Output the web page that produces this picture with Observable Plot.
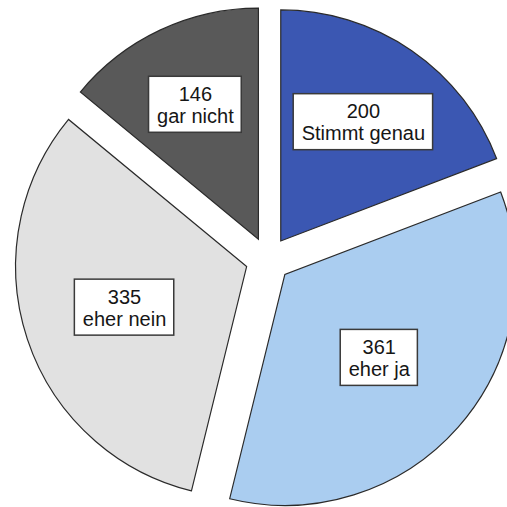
<!DOCTYPE html>
<html>
<head>
<meta charset="utf-8">
<script src="https://cdn.jsdelivr.net/npm/d3@7"></script>
<script src="https://cdn.jsdelivr.net/npm/@observablehq/plot@0.6"></script>
<style>
  html, body { margin: 0; padding: 0; background: #fff; }
  #chart svg { display: block; }
</style>
</head>
<body>
<div id="chart"></div>
<script>
// Answer categories, clockwise from 12 o'clock, and their counts
const categories = ["Stimmt genau", "eher ja", "eher nein", "gar nicht"];
const counts = [200, 361, 335, 146];
const palette = ["#3b57b2", "#aacdf0", "#e1e1e1", "#595959"];

// Layout: canvas size, pie centre and radius in pixels, explode distance
const W = 507, H = 507;
const CX = 268, CY = 259.5, R = 231;
const EXPLODE = 22.5 / R;
const FONT_SIZE = 20, LINE = 22, PAD_X = 8, PAD_Y = 6;
const FONT = "'Liberation Sans', Arial, sans-serif";

const rows = categories.map((category, i) => ({category, count: counts[i], color: palette[i]}));
const arcs = d3.pie().sort(null).value(d => d.count)(rows);

// Measure label text so each box hugs its two lines
const ctx = document.createElement("canvas").getContext("2d");
ctx.font = `${FONT_SIZE}px 'Liberation Sans', Arial, sans-serif`;

const slices = arcs.map(a => {
  const mid = (a.startAngle + a.endAngle) / 2;
  const half = (a.endAngle - a.startAngle) / 2;
  const ox = EXPLODE * Math.sin(mid), oy = EXPLODE * Math.cos(mid);
  // label sits at the centroid of the (exploded) sector
  const k = 2 * Math.sin(half) / (3 * half);
  const lx = ox + k * Math.sin(mid), ly = oy + k * Math.cos(mid);
  const tw = Math.max(ctx.measureText(String(a.data.count)).width, ctx.measureText(a.data.category).width);
  const bw = (tw + 2 * PAD_X) / R, bh = (2 * LINE + 2 * PAD_Y) / R;
  return {...a.data, arc: a, ox, oy, lx, ly,
    x1: lx - bw / 2, x2: lx + bw / 2, y1: ly - bh / 2, y2: ly + bh / 2};
});

// Exploded sectors, drawn with d3.arc positioned through the plot's scales
function sectors(index, scales) {
  const g = d3.create("svg:g");
  const rPx = scales.x(1) - scales.x(0);
  const arc = d3.arc().innerRadius(0).outerRadius(rPx);
  for (const s of slices) {
    g.append("path")
      .attr("d", arc(s.arc))
      .attr("transform", `translate(${scales.x(s.ox)},${scales.y(s.oy)})`)
      .attr("fill", s.color)
      .attr("stroke", "#2a2a2a")
      .attr("stroke-width", 1.2)
      .attr("stroke-linejoin", "miter");
  }
  return g.node();
}

const chart = Plot.plot({
  width: W,
  height: H,
  margin: 0,
  style: {fontFamily: FONT, background: "#fff"},
  x: {domain: [-CX / R, (W - CX) / R], axis: null},
  y: {domain: [-(H - CY) / R, CY / R], axis: null},
  marks: [
    sectors,
    Plot.rect(slices, {
      x1: "x1", x2: "x2", y1: "y1", y2: "y2",
      fill: "#ffffff", stroke: "#3a3a3a", strokeWidth: 1.5
    }),
    Plot.text(slices, {
      x: "lx", y: "ly",
      text: d => `${d.count}\n${d.category}`,
      fontSize: FONT_SIZE, lineHeight: LINE / FONT_SIZE,
      fill: "#161616", textAnchor: "middle"
    })
  ]
});

document.getElementById("chart").append(chart);
</script>
</body>
</html>
